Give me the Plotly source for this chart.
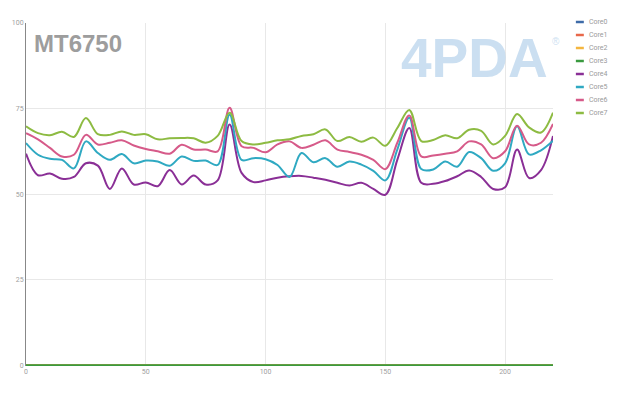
import plotly.graph_objects as go

# ---- data ----
x_vals = list(range(0, 225, 5))

core4 = [61.8, 55.5, 56.0, 54.5, 55.0, 59.0, 58.3, 51.5, 57.5, 52.8,
         53.4, 52.3, 57.0, 52.8, 55.4, 52.8, 54.0, 70.3, 56.2, 53.5,
         54.0, 54.8, 55.2, 55.3, 54.8, 54.2, 53.3, 52.5, 53.3, 51.5,
         49.8, 60.0, 69.3, 53.3, 53.0, 53.8, 55.2, 56.9, 55.0, 51.5,
         52.0, 63.0, 54.7, 57.0, 67.0]
core5 = [64.9, 61.5, 60.3, 60.0, 57.5, 65.4, 62.0, 60.0, 61.7, 59.0,
         59.8, 59.5, 58.3, 61.0, 59.7, 59.8, 58.5, 73.2, 60.0, 60.5,
         60.2, 58.5, 55.0, 62.0, 59.3, 60.5, 58.0, 59.5, 58.6, 56.8,
         54.0, 63.0, 72.3, 57.3, 57.2, 59.5, 58.0, 62.3, 60.5, 56.8,
         59.0, 69.8, 61.6, 62.8, 65.6]
core6 = [67.8, 66.0, 63.5, 61.0, 61.5, 67.3, 64.5, 65.0, 65.7, 64.2,
         63.2, 62.5, 61.8, 64.4, 63.0, 63.0, 62.5, 75.2, 64.0, 63.5,
         62.2, 64.5, 65.4, 63.5, 64.4, 65.7, 63.0, 62.3, 61.5, 60.0,
         57.3, 65.0, 73.0, 61.0, 61.3, 61.8, 62.5, 65.4, 64.5, 60.5,
         62.5, 70.0, 64.5, 65.0, 70.5]
core7 = [69.8, 67.8, 67.2, 68.2, 66.7, 72.2, 67.5, 67.3, 68.3, 67.3,
         67.5, 66.0, 66.3, 66.4, 66.3, 65.0, 67.0, 73.8, 65.5, 64.5,
         65.0, 65.7, 66.0, 67.0, 67.5, 68.9, 65.5, 66.7, 65.3, 66.5,
         64.1, 69.3, 74.6, 65.5, 65.8, 67.2, 66.3, 68.8, 68.5, 64.5,
         67.0, 73.4, 69.5, 68.0, 73.8]
core0 = [0.0] * len(x_vals)
core1 = [0.0] * len(x_vals)
core2 = [0.0] * len(x_vals)
core3 = [0.0] * len(x_vals)

series_names = ["Core0", "Core1", "Core2", "Core3", "Core4", "Core5", "Core6", "Core7"]
series_values = [core0, core1, core2, core3, core4, core5, core6, core7]
series_colors = ["#3e6ba8", "#e8684a", "#f4b63f", "#3a9a3f",
                 "#8a2f96", "#2fa9c2", "#d65a89", "#8dbb42"]

x_ticks = [0, 50, 100, 150, 200]
y_ticks = [0, 25, 50, 75, 100]

FONT = "Roboto, Open Sans, sans-serif"

fig = go.Figure()
for name, vals, col in zip(series_names, series_values, series_colors):
    fig.add_trace(go.Scatter(
        x=x_vals, y=vals, name=name, mode="lines",
        line=dict(color=col, width=2, shape="spline", smoothing=1.0),
        showlegend=False,
    ))

# manual compact legend (short swatches like the original)
for i, (name, col) in enumerate(zip(series_names, series_colors)):
    ypix = 22 + i * 13.0
    yp = 1 - (ypix - 23) / 343.0
    fig.add_shape(type="line", xref="paper", yref="paper",
                  x0=(576 - 23) / 530.0, x1=(584 - 23) / 530.0, y0=yp, y1=yp,
                  line=dict(color=col, width=2.5))
    fig.add_annotation(xref="paper", yref="paper", x=(587 - 23) / 530.0, y=yp,
                       text=name, showarrow=False, xanchor="left", yanchor="middle",
                       font=dict(family=FONT, size=7, color="#9a9a9a"))

# chart title
fig.add_annotation(xref="paper", yref="paper", x=(29 - 23) / 530.0, y=1 - (44 - 23) / 343.0,
                   text="<b>MT6750</b>", showarrow=False, xanchor="left", yanchor="middle",
                   font=dict(family="Liberation Sans, Arial, sans-serif", size=24, color="#9d9d9d"))

# watermark
fig.add_annotation(xref="paper", yref="paper", x=(474 - 23) / 530.0, y=1 - (58 - 23) / 343.0,
                   text="<b>4PDA</b>", showarrow=False, xanchor="center", yanchor="middle",
                   borderpad=0,
                   font=dict(family="Liberation Sans, Arial, sans-serif", size=55, color="rgba(190,215,238,0.8)"))
fig.add_annotation(xref="paper", yref="paper", x=(556 - 23) / 530.0, y=1 - (41 - 23) / 343.0,
                   text="®", showarrow=False, xanchor="center", yanchor="middle",
                   borderpad=0,
                   font=dict(family="Liberation Sans, Arial, sans-serif", size=10, color="rgba(190,215,238,0.8)"))

fig.update_layout(
    width=620, height=397,
    margin=dict(l=23, r=67, t=23, b=31),
    paper_bgcolor="white", plot_bgcolor="white",
    font=dict(family=FONT, size=7, color="#a0a0a0"),
    xaxis=dict(range=[0, 220], tickvals=x_ticks, showgrid=True, gridcolor="#e8e8e8",
               gridwidth=1, zeroline=False, showline=False, ticks="",
               tickfont=dict(size=7, color="#a0a0a0")),
    yaxis=dict(range=[-0.25, 100], tickvals=y_ticks, showgrid=True, gridcolor="#e8e8e8",
               gridwidth=1, zeroline=False, showline=True, linecolor="#888888", linewidth=1,
               ticks="", tickfont=dict(size=7, color="#a0a0a0")),
)

fig.write_html("out.html", config={"displayModeBar": False},
               post_script="document.body.style.margin='0';document.body.style.padding='0';")
